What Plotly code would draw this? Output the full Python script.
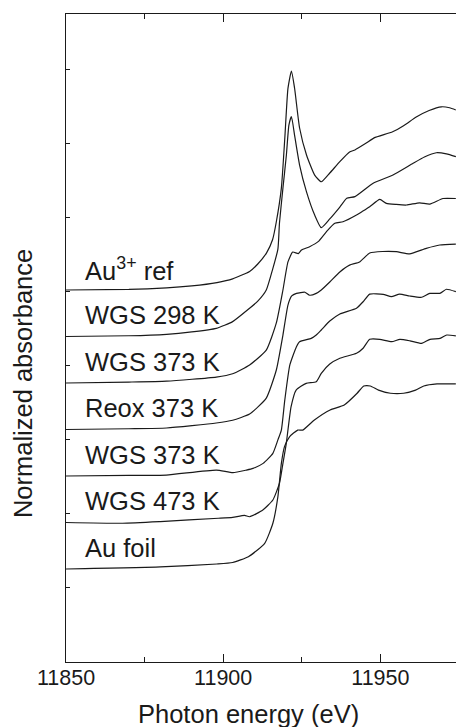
import plotly.graph_objects as go

# ---------------- data (normalized absorbance, before vertical offset) -------------
au3_energy = [11850, 11870, 11882, 11890, 11898, 11903, 11908.4, 11911, 11913.8, 11915.7, 11916.9,
              11918.5, 11919.6, 11920.6, 11921.7, 11922.7, 11924.3, 11926.5, 11929.1, 11931.2,
              11933.9, 11937.1, 11940.2, 11941.9, 11945.5, 11948, 11953.9, 11957.5, 11961.4,
              11965.5, 11969.4, 11972, 11974]
au3_mu = [0, 0.003, 0.011, 0.022, 0.04, 0.06, 0.10, 0.14, 0.20, 0.27, 0.367,
          0.548, 0.817, 1.084, 1.177, 1.086, 0.871, 0.726, 0.618, 0.582,
          0.629, 0.690, 0.742, 0.753, 0.790, 0.818, 0.851, 0.885, 0.930,
          0.965, 0.985, 0.980, 0.968]

wgs298_energy = [11850, 11870, 11882, 11890, 11897.8, 11903, 11908.4, 11911, 11913.7, 11915.7,
                 11917.4, 11917.9, 11919, 11920.1, 11920.9, 11921.7, 11922.7, 11924.3, 11926.5,
                 11929.1, 11931.2, 11933.9, 11937.1, 11939.3, 11941.9, 11947.7, 11954, 11960.4,
                 11964, 11967.8, 11971, 11974]
wgs298_mu = [0, 0.004, 0.012, 0.025, 0.044, 0.08, 0.152, 0.19, 0.25, 0.36,
             0.47, 0.61, 0.798, 0.976, 1.137, 1.183, 1.083, 0.922, 0.778,
             0.653, 0.585, 0.632, 0.696, 0.743, 0.752, 0.824, 0.868, 0.931,
             0.965, 0.988, 0.982, 0.967]

wgs373a_energy = [11850, 11870, 11882, 11897.8, 11903, 11908.4, 11913.7, 11916.9, 11919, 11920.6,
                  11922.1, 11923.9, 11924.9, 11927.5, 11930.2, 11932.8, 11935.5, 11938.1, 11942.4,
                  11944, 11946.6, 11949.8, 11951.9, 11955, 11958.3, 11962.5, 11965.7, 11969.9, 11974]
wgs373a_mu = [0, 0.005, 0.01, 0.032, 0.05, 0.097, 0.177, 0.323, 0.5, 0.651,
              0.704, 0.696, 0.715, 0.733, 0.76, 0.813, 0.859, 0.867, 0.903,
              0.92, 0.948, 0.987, 0.966, 0.96, 0.957, 0.969, 0.962, 0.992, 0.992]

reox373_energy = [11850, 11870, 11882, 11897.8, 11903, 11908.4, 11913.7, 11916.9, 11919, 11920.6,
                  11921.8, 11923.3, 11926, 11927.5, 11929.6, 11931.2, 11933.9, 11937.1, 11940.2,
                  11943.4, 11946.6, 11950.7, 11955.1, 11959.3, 11964.6, 11968.9, 11974]
reox373_mu = [0, 0.004, 0.008, 0.035, 0.05, 0.083, 0.169, 0.32, 0.508, 0.669,
              0.718, 0.732, 0.738, 0.722, 0.732, 0.75, 0.793, 0.847, 0.884,
              0.901, 0.949, 0.957, 0.956, 0.944, 0.974, 0.992, 0.997]

wgs373b_energy = [11850, 11870, 11881.9, 11897.8, 11903.1, 11907.4, 11909.5, 11912.7, 11915.8,
                  11917.4, 11918.5, 11919.6, 11921.2, 11923.3, 11924.3, 11928, 11929.6, 11931.2,
                  11933.9, 11937.1, 11942.4, 11944.5, 11946.6, 11950.9, 11953.5, 11956.1, 11959.3,
                  11963.1, 11965.7, 11968.9, 11971, 11974]
wgs373b_mu = [0, 0.003, 0.005, 0.032, 0.018, 0.032, 0.041, 0.068, 0.122,
              0.194, 0.247, 0.409, 0.597, 0.695, 0.722, 0.740, 0.758, 0.785,
              0.833, 0.871, 0.902, 0.937, 0.978, 0.977, 0.964, 0.978, 0.968,
              0.961, 0.982, 0.982, 1.004, 0.991]

wgs473_energy = [11850, 11868, 11880, 11898.5, 11903, 11906.8, 11908.4, 11912.6, 11915.8, 11917.9,
                 11919, 11920, 11921.6, 11923.2, 11926.4, 11929.6, 11931.2, 11933.9, 11937.1,
                 11942.4, 11944.5, 11946.6, 11949.8, 11953.6, 11956.2, 11959.4, 11963.1, 11965.8,
                 11969, 11971.1, 11974]
wgs473_mu = [0, -0.004, 0.005, 0.023, 0.028, 0.038, 0.031, 0.067, 0.121, 0.211,
             0.318, 0.417, 0.623, 0.712, 0.748, 0.757, 0.802, 0.852, 0.883,
             0.910, 0.937, 0.985, 0.985, 0.972, 0.985, 0.977, 0.963, 0.985,
             0.990, 1.008, 1.003]

aufoil_energy = [11850, 11880, 11898, 11903, 11908, 11913.2, 11915.8, 11917.4, 11918.5, 11919.5,
                 11921.1, 11923.7, 11925.3, 11929, 11934, 11938.5, 11942.6, 11944.7, 11946.8,
                 11949.4, 11953.2, 11957.4, 11961.2, 11963.8, 11968, 11974]
aufoil_mu = [0, 0.011, 0.027, 0.035, 0.066, 0.138, 0.246, 0.389, 0.568, 0.658,
             0.711, 0.747, 0.747, 0.801, 0.855, 0.882, 0.945, 0.984, 0.984,
             0.962, 0.945, 0.945, 0.962, 0.984, 0.995, 0.995]

labels = ["Au<sup>3+</sup> ref", "WGS 298 K", "WGS 373 K", "Reox 373 K",
          "WGS 373 K", "WGS 473 K", "Au foil"]
offsets = [2.0, 1.75, 1.5, 1.25, 1.0, 0.75, 0.5]

energies = [au3_energy, wgs298_energy, wgs373a_energy, reox373_energy,
            wgs373b_energy, wgs473_energy, aufoil_energy]
spectra = [au3_mu, wgs298_mu, wgs373a_mu, reox373_mu,
           wgs373b_mu, wgs473_mu, aufoil_mu]

x_ticks = [11850, 11900, 11950]

# ---------------- figure -------------
FONT = "Liberation Sans, Arial, Helvetica, sans-serif"
INK = "#1a1a1a"
fig = go.Figure()
for e, mu, off, lab in zip(energies, spectra, offsets, labels):
    fig.add_trace(go.Scatter(
        x=e, y=[v + off for v in mu], mode="lines",
        line=dict(color=INK, width=1.2, shape="spline", smoothing=0.5),
        showlegend=False, hoverinfo="skip"))
    fig.add_annotation(x=11855.3, y=off + 0.115, text=lab, showarrow=False,
                       xanchor="left", yanchor="middle",
                       font=dict(family=FONT, size=25.5, color=INK))

fig.add_annotation(xref="paper", yref="paper", x=0.469, y=-0.080,
                   text="Photon energy (eV)", showarrow=False,
                   xanchor="center", yanchor="middle",
                   font=dict(family=FONT, size=25.5, color=INK))
fig.add_annotation(xref="paper", yref="paper", x=-0.110, y=0.429,
                   text="Normalized absorbance", showarrow=False, textangle=-90,
                   xanchor="center", yanchor="middle",
                   font=dict(family=FONT, size=25.5, color=INK))

fig.update_layout(
    width=456, height=727,
    margin=dict(l=66, r=0, t=14, b=65),
    paper_bgcolor="white", plot_bgcolor="white",
    font=dict(family=FONT, color=INK),
    xaxis=dict(range=[11850, 11974.05], tickvals=x_ticks,
               ticktext=[str(v) for v in x_ticks],
               ticks="inside", ticklen=8, tickwidth=1, tickcolor=INK,
               ticklabelstandoff=-4,
               minor=dict(tickvals=[11875, 11925], ticks="inside", ticklen=5,
                          tickwidth=1, tickcolor=INK),
               showline=True, linecolor=INK, linewidth=1.3, mirror="ticks",
               showgrid=False, zeroline=False,
               tickfont=dict(family=FONT, size=21.5, color=INK)),
    yaxis=dict(range=[0, 3.484], tick0=0, dtick=0.398,
               ticks="inside", ticklen=4, tickwidth=1, tickcolor=INK,
               showticklabels=False,
               showline=True, linecolor=INK, linewidth=1.3, mirror=False,
               showgrid=False, zeroline=False),
)

# remove the page's default body margin so the 456x727 figure fills the window exactly
fig.write_html("out.html",
               config={"displayModeBar": False},
               post_script="document.body.style.margin='0';"
                           "document.body.style.overflow='hidden';")
